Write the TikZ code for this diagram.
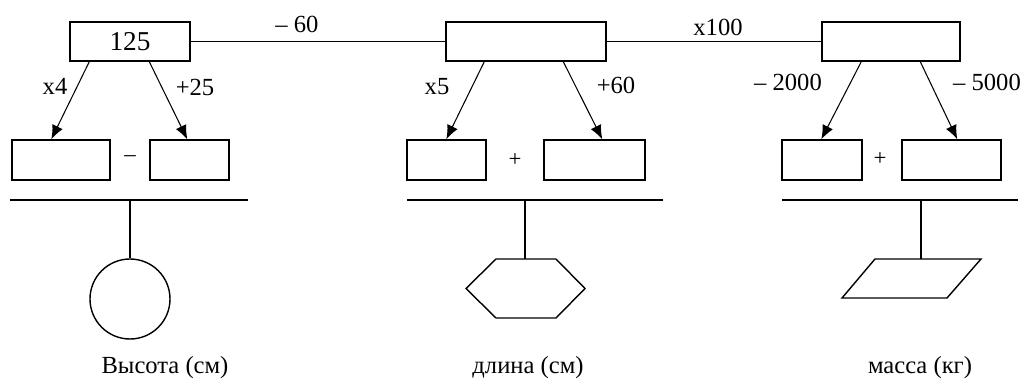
\documentclass[tikz,border=0pt]{standalone}
\usepackage{fontspec}
\setmainfont{Liberation Serif}
\usetikzlibrary{arrows.meta,positioning}

\tikzset{
  box/.style={draw,line width=0.8pt,inner sep=0pt,minimum height=0.8cm},
  arr/.style={line width=0.6pt,-{Latex[length=8pt,width=6.5pt]}},
  lbl/.style={font=\fontsize{14}{16}\selectfont,inner sep=0pt},
  sgn/.style={font=\fontsize{13}{15}\selectfont,inner sep=0pt},
  bar/.style={line width=1pt},
  shp/.style={line width=0.8pt}
}

\begin{document}
\begin{tikzpicture}
  \useasboundingbox (0,0) rectangle (20.54,7.58);
  % top row
  \node[box,minimum width=2.4cm,minimum height=0.78cm,font=\fontsize{15.5}{17}\selectfont] (top1) at (2.6,6.75) {125};
  \node[box,minimum width=3.2cm,minimum height=0.78cm] (top2) at (10.52,6.75) {};
  \node[box,minimum width=2.76cm,minimum height=0.78cm] (top3) at (17.82,6.75) {};
  \draw[line width=0.8pt] (top1) -- (top2);
  \draw[line width=0.8pt] (top2) -- (top3);
  \node[lbl] (l60) at (5.94,7.1) {– 60};
  \node[lbl] (l100) at (14.36,7.04) {x100};
  % second row
  \node[box,minimum width=1.96cm] (a1) at (1.22,4.38) {};
  \node[box,minimum width=1.58cm] (b1) at (3.79,4.38) {};
  \node[box,minimum width=1.58cm] (a2) at (8.93,4.38) {};
  \node[box,minimum width=2.02cm] (b2) at (11.89,4.38) {};
  \node[box,minimum width=1.6cm] (a3) at (16.44,4.38) {};
  \node[box,minimum width=1.98cm] (b3) at (19.03,4.38) {};
  \node[sgn] (s1) at (2.6,4.4) {–};
  \node[sgn] (s2) at (10.3,4.38) {+};
  \node[sgn] (s3) at (17.6,4.4) {+};
  % arrows
  \draw[arr] ([xshift=0.4cm]top1.south west) -- ([xshift=0.8cm]a1.north west);
  \draw[arr] ([xshift=1.6cm]top1.south west) -- ([xshift=0.76cm]b1.north west);
  \draw[arr] ([xshift=0.78cm]top2.south west) -- ([xshift=0.8cm]a2.north west);
  \draw[arr] ([xshift=2.36cm]top2.south west) -- ([xshift=1.18cm]b2.north west);
  \draw[arr] ([xshift=0.8cm]top3.south west) -- ([xshift=0.8cm]a3.north west);
  \draw[arr] ([xshift=1.98cm]top3.south west) -- ([xshift=1.12cm]b3.north west);
  \node[lbl] (lx4) at (1.1,5.86) {x4};
  \node[lbl] (l25) at (3.9,5.84) {+25};
  \node[lbl] (lx5) at (8.74,5.84) {x5};
  \node[lbl] (lp60) at (12.32,5.88) {+60};
  \node[lbl] (l2000) at (15.76,5.94) {– 2000};
  \node[lbl] (l5000) at (19.74,5.94) {– 5000};
  % bars and figures
  \draw[bar] (0.2,3.58) -- (4.96,3.58);
  \draw[bar] (8.14,3.58) -- (13.26,3.58);
  \draw[bar] (15.64,3.58) -- (20.36,3.58);
  \coordinate (bar1) at (2.6,3.58);
  \coordinate (bar2) at (10.5,3.58);
  \coordinate (bar3) at (18.42,3.58);
  \node[draw,shp,circle,minimum size=1.6cm,inner sep=0pt] (circ) at (2.6,1.6) {};
  \draw[shp] (9.92,2.4) -- (11.12,2.4) -- (11.7,1.81) -- (11.12,1.22) -- (9.92,1.22) -- (9.32,1.81) -- cycle;
  \coordinate (hex) at (10.5,2.4);
  \draw[shp] (17.5,2.4) -- (19.62,2.4) -- (18.94,1.62) -- (16.84,1.62) -- cycle;
  \coordinate (par) at (18.42,2.4);
  \draw[line width=0.7pt] (bar1) -- (circ.north);
  \draw[line width=0.7pt] (bar2) -- (hex);
  \draw[line width=0.7pt] (bar3) -- (par);
  \node[lbl] (n1) at (3.3,0.22) {Высота (см)};
  \node[lbl] (n2) at (10.56,0.22) {длина (см)};
  \node[lbl] (n3) at (18.4,0.22) {масса (кг)};
\end{tikzpicture}
\end{document}
